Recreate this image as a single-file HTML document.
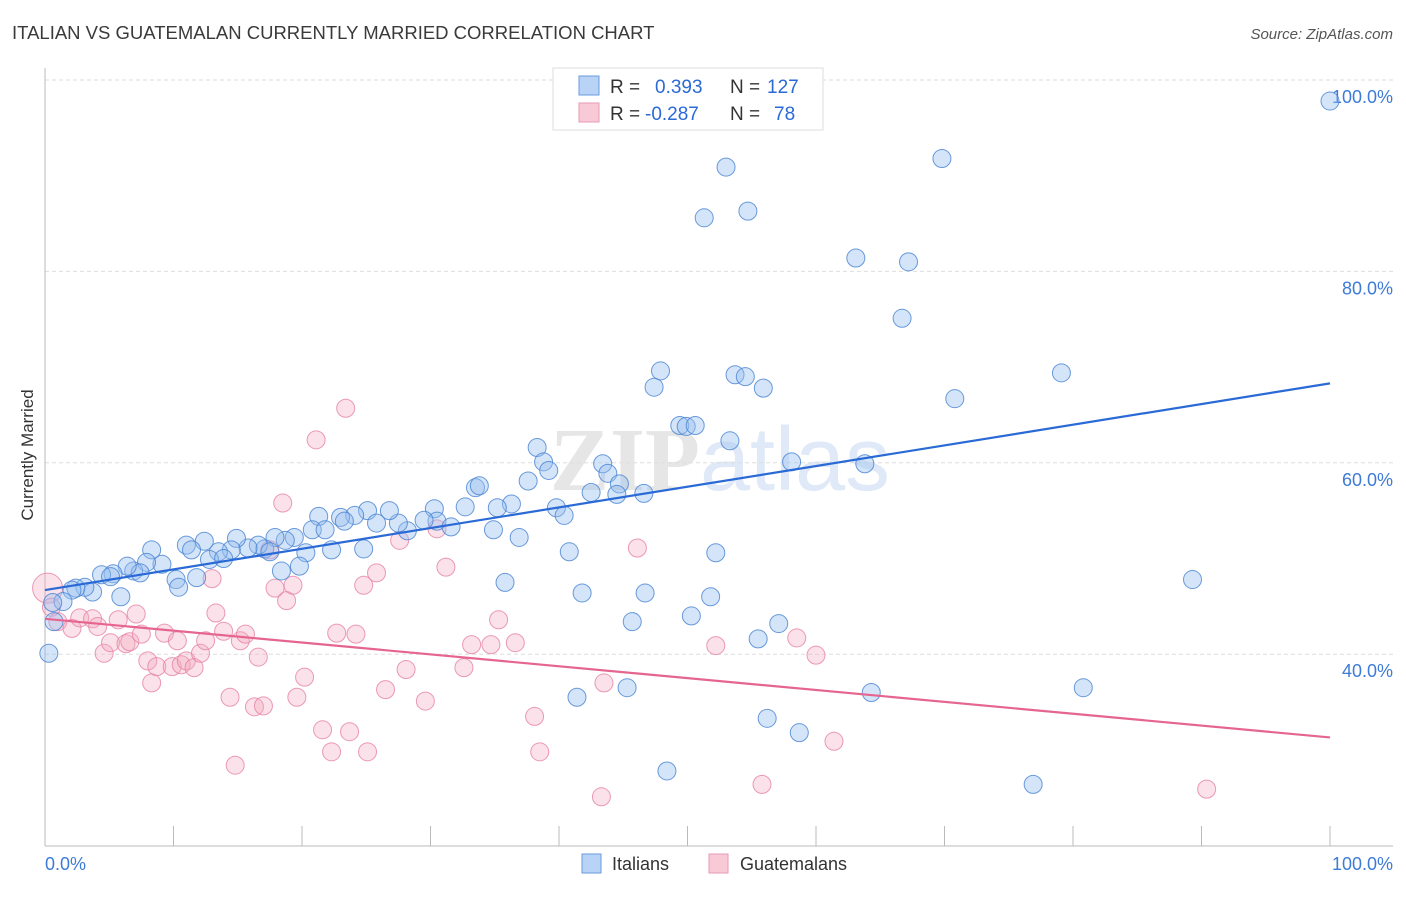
<!DOCTYPE html>
<html><head><meta charset="utf-8"><style>
body{margin:0;background:#fff;font-family:"Liberation Sans",sans-serif;}
svg text{font-family:"Liberation Sans",sans-serif;}
</style></head><body>
<svg width="1406" height="892" viewBox="0 0 1406 892">
<text x="12" y="39" font-size="18.5" fill="#3a3a3a">ITALIAN VS GUATEMALAN CURRENTLY MARRIED CORRELATION CHART</text>
<text x="1393" y="39" font-size="15" font-style="italic" fill="#555" text-anchor="end">Source: ZipAtlas.com</text>
<text x="720" y="490" font-size="90" fill="#e4ebf5" text-anchor="middle" font-weight="bold"><tspan fill="#e6e6e6" font-family="Liberation Serif">ZIP</tspan><tspan font-weight="normal" fill="#dfe9f7">atlas</tspan></text>
<g id="grid"></g>
<g id="axes"></g>
<g id="pts"></g>
<g id="trend"></g>
<text transform="translate(33,455) rotate(-90)" font-size="17" fill="#333" text-anchor="middle">Currently Married</text>
<g>
<rect x="553" y="68" width="270" height="62" fill="#fff" stroke="#ddd"/>
<rect x="579" y="76" width="20" height="19" fill="#b8d3f5" stroke="#6a9be0"/>
<rect x="579" y="103" width="20" height="19" fill="#f8c9d7" stroke="#e99ab3"/>
<text x="610" y="93" font-size="19" fill="#333">R = <tspan fill="#2a6ad6" x="655">0.393</tspan><tspan x="730">N =</tspan><tspan x="767" fill="#2a6ad6">127</tspan></text>
<text x="610" y="120" font-size="19" fill="#333">R = <tspan fill="#2a6ad6" x="645">-0.287</tspan><tspan x="730">N =</tspan><tspan x="774" fill="#2a6ad6">78</tspan></text>
</g>
<g>
<rect x="582" y="854" width="19" height="19" fill="#b8d3f5" stroke="#6a9be0"/>
<text x="612" y="870" font-size="18" fill="#333">Italians</text>
<rect x="709" y="854" width="19" height="19" fill="#f8c9d7" stroke="#e99ab3"/>
<text x="740" y="870" font-size="18" fill="#333">Guatemalans</text>
</g>
</svg>
<script>
const blueX=[100.0,69.8,53.0,51.3,54.7,63.1,67.2,66.7,79.1,70.8,47.9,47.4,53.7,54.5,55.9,49.4,49.9,50.6,53.3,38.3,38.8,39.2,43.4,43.8,44.7,42.5,44.5,46.6,58.1,63.8,37.6,33.5,33.8,36.3,35.2,32.7,30.3,34.9,36.9,39.8,40.4,40.8,41.8,46.7,45.7,50.3,51.8,52.2,57.1,55.5,56.2,58.7,48.4,41.4,45.3,64.3,80.8,89.3,76.9,35.8,30.5,31.6,29.5,28.2,27.5,26.8,25.1,25.8,24.1,23.0,24.8,23.3,21.3,20.8,21.8,22.3,20.3,19.8,19.4,18.7,17.9,17.1,16.6,15.8,14.9,14.5,13.5,12.4,12.8,13.9,11.0,11.4,10.2,10.4,11.8,9.1,8.3,7.9,6.9,7.4,6.4,5.3,4.4,5.1,3.7,3.1,2.4,2.1,1.4,0.6,0.7,0.3,5.9,18.4,17.5];
const blueY=[97.8,91.8,90.9,85.6,86.3,81.4,81.0,75.1,69.4,66.7,69.6,67.9,69.2,69.0,67.8,63.9,63.8,63.9,62.3,61.6,60.1,59.2,59.9,58.9,57.8,56.9,56.7,56.8,60.1,59.9,58.1,57.4,57.6,55.7,55.3,55.4,55.2,53.0,52.2,55.3,54.5,50.7,46.4,46.4,43.4,44.0,46.0,50.6,43.2,41.6,33.3,31.8,27.8,35.5,36.5,36.0,36.5,47.8,26.4,47.5,53.9,53.3,54.0,52.9,53.7,55.0,55.0,53.7,54.5,54.3,51.0,53.9,54.4,53.0,53.0,50.9,50.6,49.2,52.2,51.9,52.2,51.0,51.4,51.1,52.1,50.9,50.7,51.8,49.9,50.0,51.4,50.9,47.8,47.0,48.0,49.4,50.9,49.6,48.7,48.5,49.2,48.4,48.3,48.1,46.5,47.0,46.9,46.7,45.5,45.4,43.4,40.1,46.0,48.7,50.7];
const pinkX=[0.2,0.5,1.0,2.1,2.7,3.7,4.1,4.6,5.1,5.7,6.3,6.6,7.1,7.5,8.0,8.3,8.7,9.3,9.9,10.3,10.6,11.0,11.6,12.1,12.5,13.0,13.3,13.9,14.4,14.8,15.2,15.6,16.3,16.6,17.0,17.5,18.5,17.9,18.8,19.3,19.6,20.2,21.1,21.6,22.3,22.7,23.4,23.7,24.2,24.8,25.1,25.8,26.5,27.6,28.1,29.6,30.5,31.2,32.6,33.2,34.7,35.3,36.6,38.1,38.5,43.3,43.5,46.1,52.2,55.8,58.5,60.0,61.4,90.4];
const pinkY=[46.9,44.9,43.4,42.7,43.8,43.7,42.9,40.1,41.2,43.6,41.1,41.3,44.2,42.1,39.3,37.0,38.7,42.2,38.7,41.4,38.9,39.3,38.6,40.1,41.4,47.9,44.3,42.4,35.5,28.4,41.4,42.1,34.5,39.7,34.6,50.9,55.8,46.9,45.6,47.2,35.5,37.6,62.4,32.1,29.8,42.2,65.7,31.9,42.1,47.2,29.8,48.5,36.3,51.9,38.4,35.1,53.1,49.1,38.6,41.0,41.0,43.6,41.2,33.5,29.8,25.1,37.0,51.1,40.9,26.4,41.7,39.9,30.9,25.9];
const trendBlue=[46.7,68.3];
const trendPink=[43.7,31.3];
const yTicks=[100,80,60,40];
const yTickLabels=["100.0%","80.0%","60.0%","40.0%"];
const xTicks=[0,10,20,30,40,50,60,70,80,90,100];

const NS="http://www.w3.org/2000/svg";
const sx=v=>45+v*12.85;
const sy=v=>80+(100-v)*9.57;
function mk(tag,attrs,parent){const e=document.createElementNS(NS,tag);for(const k in attrs)e.setAttribute(k,attrs[k]);parent.appendChild(e);return e;}
const grid=document.getElementById('grid'),axes=document.getElementById('axes'),pts=document.getElementById('pts'),tr=document.getElementById('trend');
yTicks.forEach((v,i)=>{
  const l=mk('line',{x1:45,x2:1393,y1:sy(v),y2:sy(v),stroke:'#ddd','stroke-dasharray':'4,3'},grid);
  
  
  const t=mk('text',{x:1393,y:sy(v)+23,'font-size':18,fill:'#3d7bd8','text-anchor':'end'},grid);
  t.textContent=yTickLabels[i];
  
  
});
const ya=mk('line',{x1:45,x2:45,y1:68,y2:846,stroke:'#bbb'},axes);


const xa=mk('line',{x1:45,x2:1393,y1:846,y2:846,stroke:'#bbb'},axes);


xTicks.forEach(v=>{
  const t=mk('line',{x1:sx(v),x2:sx(v),y1:826,y2:846,stroke:'#bbb'},axes);
  
  
});
const xl0=mk('text',{x:45,y:870,'font-size':18,fill:'#3d7bd8'},axes);xl0.textContent='0.0%';


const xl1=mk('text',{x:1393,y:870,'font-size':18,fill:'#3d7bd8','text-anchor':'end'},axes);xl1.textContent='100.0%';


pinkX.forEach((x,i)=>{
  const c=mk('circle',{cx:sx(x),cy:sy(pinkY[i]),r:i===0?15:9,fill:'rgba(244,168,192,0.35)',stroke:'rgba(230,130,165,0.8)','stroke-width':1},pts);
  
  
});
blueX.forEach((x,i)=>{
  const c=mk('circle',{cx:sx(x),cy:sy(blueY[i]),r:9,fill:'rgba(150,190,240,0.4)',stroke:'rgba(70,130,210,0.8)','stroke-width':1},pts);
  
  
});
const tb=mk('line',{x1:sx(0),x2:sx(100),y1:sy(trendBlue[0]),y2:sy(trendBlue[1]),stroke:'#2a6ad6','stroke-width':2.2},tr);


const tp=mk('line',{x1:sx(0),x2:sx(100),y1:sy(trendPink[0]),y2:sy(trendPink[1]),stroke:'#e5658f','stroke-width':2.2},tr);


</script>
</body></html>
